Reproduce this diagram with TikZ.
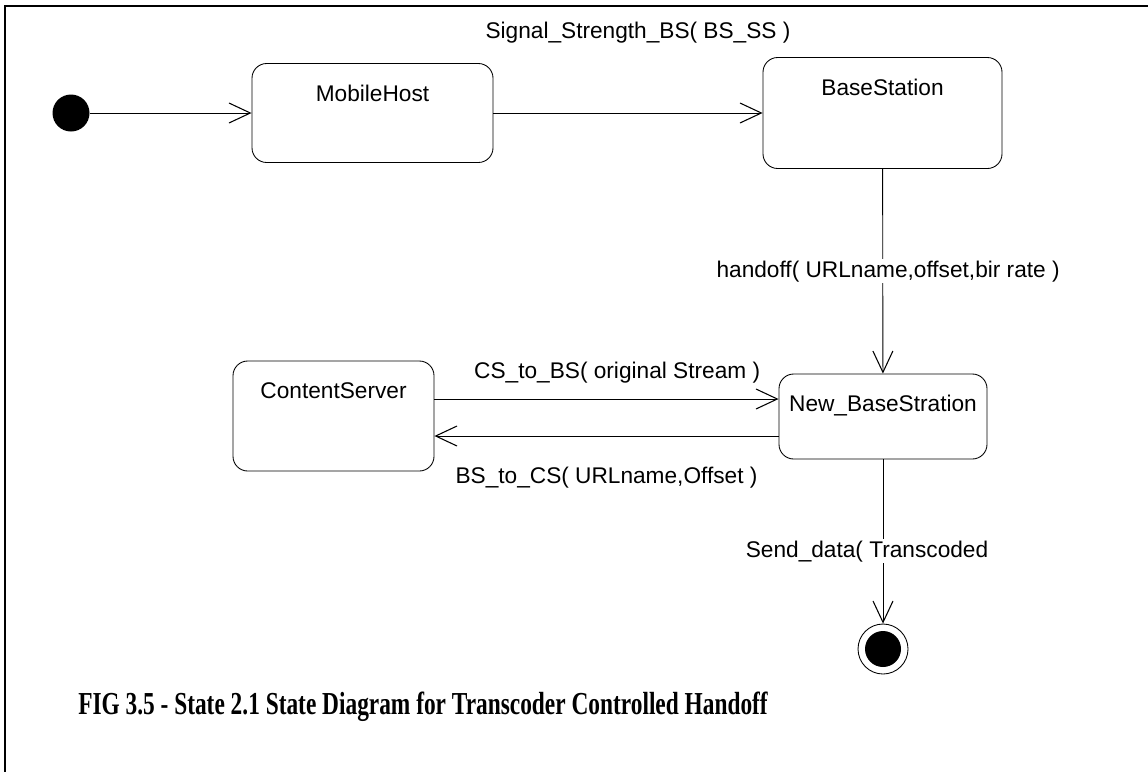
\documentclass[tikz,border=0pt]{standalone}
\usepackage{graphicx}
\usepackage{fontspec}
\setmainfont{Liberation Sans}
\newfontfamily\capfont{Liberation Serif}
\usetikzlibrary{arrows.meta,positioning}
\tikzset{
  state/.style={draw,rounded corners=11pt,line width=0.65pt,inner sep=0pt},
  stname/.style={anchor=north,inner sep=0pt,font=\fontsize{17}{20}\selectfont},
  trans/.style={line width=0.65pt,-{Straight Barb[length=16pt,width=15pt,line width=0.8pt]}},
  translab/.style={font=\fontsize{17}{20}\selectfont,inner sep=1pt},
  pseudo/.style={circle,inner sep=0pt},
}
\begin{document}
\begin{tikzpicture}[x=0.75pt,y=-0.75pt]
\useasboundingbox (0,0) rectangle (1148,772);
% open frame
\draw[line width=1.8pt] (1148,6) -- (5,6) -- (5,772);
% states
\node[pseudo,fill,minimum size=27.75pt] (init) at (71,113) {};
\node[state,minimum width=180.75pt,minimum height=74.25pt] (mh) at (372.5,113) {};
\node[state,minimum width=179.25pt,minimum height=83.25pt] (bs) at (882.5,113) {};
\node[state,minimum width=150.75pt,minimum height=82.5pt] (cs) at (333.5,416) {};
\node[state,minimum width=156pt,minimum height=63.75pt] (nbs) at (883,416.5) {};
\node[pseudo,draw,line width=0.65pt,minimum size=37.5pt] (fin) at (883,649) {};
\node[pseudo,fill,minimum size=27pt] (fin-dot) at (fin) {};
\foreach \st/\txt in {mh/MobileHost,bs/BaseStation,cs/ContentServer,nbs/New\_BaseStration}
  {\node[stname] (\st-name) at ([yshift=-16pt]\st.north) {\txt};}
% transitions
\draw[trans] (init) -- (mh);
\draw[trans] (mh) -- (bs) node[translab,midway,yshift=60pt,xshift=7.5pt] (sig) {Signal\_Strength\_BS( BS\_SS )};
\draw[trans] (bs) -- (nbs) node[translab,midway,fill=white,xshift=4pt] (hof) {handoff( URLname,offset,bir rate )};
\coordinate (cs-up) at ([yshift=12.75pt]cs.east);
\coordinate (cs-dn) at ([yshift=-15pt]cs.east);
\draw[trans] (cs-up) -- (cs-up -| nbs.west) node[translab,midway,yshift=20pt,xshift=8pt] (c2b) {CS\_to\_BS( original Stream )};
\draw[trans] (cs-dn -| nbs.west) -- (cs-dn) node[translab,midway,yshift=-31.5pt] (b2c) {BS\_to\_CS( URLname,Offset )};
\draw[trans] (nbs) -- (fin) node[translab,pos=0.56,fill=white,xshift=-12pt] (snd) {Send\_data( Transcoded};
% caption
\node[anchor=west,inner sep=0pt,font=\capfont\bfseries\fontsize{24}{28}\selectfont] (cap) at (78,707)
  {\scalebox{0.73}[1]{FIG 3.5 - State 2.1 State Diagram for Transcoder Controlled Handoff}};
\end{tikzpicture}
\end{document}
